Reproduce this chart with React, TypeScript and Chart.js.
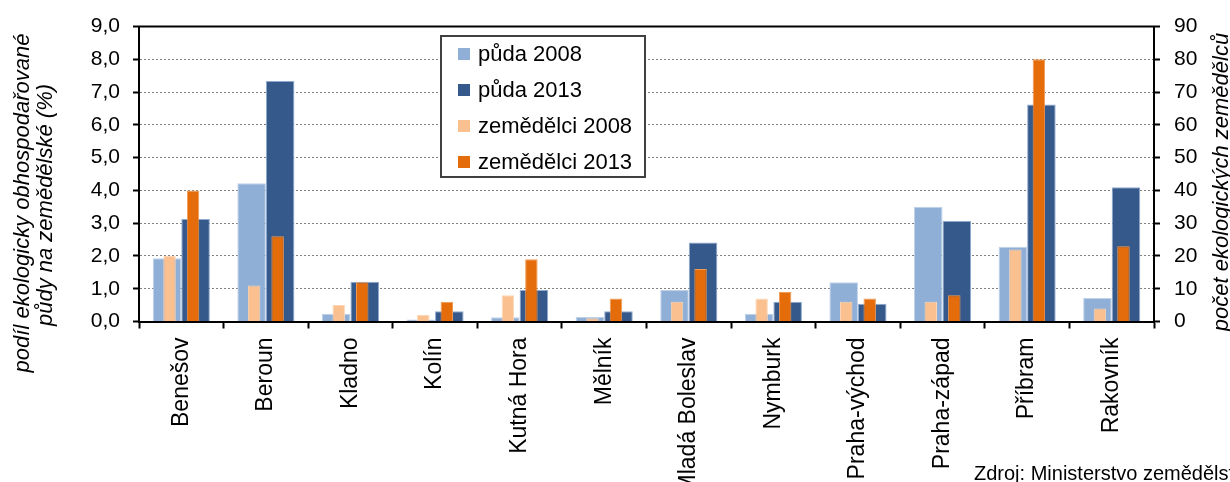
import React, { useEffect, useRef } from 'react';
import { Chart, registerables } from 'chart.js';

Chart.register(...registerables);

const categories = [
  'Benešov', 'Beroun', 'Kladno', 'Kolín', 'Kutná Hora', 'Mělník',
  'Mladá Boleslav', 'Nymburk', 'Praha-východ', 'Praha-západ', 'Příbram', 'Rakovník',
];
const puda2008 = [1.93, 4.22, 0.24, 0.06, 0.13, 0.14, 0.96, 0.24, 1.2, 3.5, 2.28, 0.72];
const puda2013 = [3.13, 7.34, 1.21, 0.31, 0.96, 0.31, 2.41, 0.6, 0.54, 3.07, 6.62, 4.1];
const zemedelci2008 = [20, 11, 5, 2, 8, 1, 6, 7, 6, 6, 22, 4];
const zemedelci2013 = [40, 26, 12, 6, 19, 7, 16, 9, 7, 8, 80, 23];

const seriesLabels = ['půda 2008', 'půda 2013', 'zemědělci 2008', 'zemědělci 2013'];
const seriesColors = ['#8FAFD6', '#34598A', '#FAC090', '#E46C0A'];
const seriesBorders = ['#BFD2EA', '#8EAAD0', '#FCD6B6', '#F09A55'];

const leftTitle = ['podíl ekologicky obhospodařované', 'půdy na zemědělské (%)'];
const rightTitle = 'počet ekologických zemědělců';
const sourceText = 'Zdroj: Ministerstvo zemědělství';

const FONT = '"Liberation Sans", Arial, sans-serif';

export default function App() {
  const ref = useRef<HTMLCanvasElement>(null);

  useEffect(() => {
    if (!ref.current) return;

    const overlay = {
      id: 'overlay',
      afterDraw(chart: any) {
        const { ctx, chartArea } = chart;
        ctx.save();
        // top border
        ctx.strokeStyle = '#000';
        ctx.lineWidth = 2;
        ctx.beginPath();
        ctx.moveTo(chartArea.left - 1, chartArea.top);
        ctx.lineTo(chartArea.right + 1, chartArea.top);
        ctx.stroke();

        // axis titles
        ctx.fillStyle = '#000';
        ctx.font = `italic 22px ${FONT}`;
        ctx.textAlign = 'center';
        ctx.textBaseline = 'middle';
        const rotText = (t: string, x: number, y: number) => {
          ctx.save();
          ctx.translate(x, y);
          ctx.rotate(-Math.PI / 2);
          ctx.fillText(t, 0, 0);
          ctx.restore();
        };
        rotText(leftTitle[0], 23, 203);
        rotText(leftTitle[1], 46, 205);
        rotText(rightTitle, 1222, 182);

        // legend
        const lx = 441, ly = 36, lw = 204, lh = 141;
        ctx.fillStyle = '#fff';
        ctx.fillRect(lx, ly, lw, lh);
        ctx.strokeStyle = '#404040';
        ctx.lineWidth = 2;
        ctx.strokeRect(lx, ly, lw, lh);
        ctx.font = `22px ${FONT}`;
        ctx.textAlign = 'left';
        ctx.textBaseline = 'middle';
        seriesLabels.forEach((lab, i) => {
          const cy = 54 + i * 36;
          ctx.fillStyle = seriesColors[i];
          ctx.fillRect(458, cy - 6, 12, 12);
          ctx.fillStyle = '#000';
          ctx.fillText(lab, 478, cy + 1);
        });

        // source
        ctx.font = `20px ${FONT}`;
        ctx.textBaseline = 'alphabetic';
        ctx.fillStyle = '#000';
        ctx.fillText(sourceText, 974, 480);
        ctx.restore();
      },
    };

    const gridColor = (c: any) =>
      c.tick && (c.tick.value === 0 || c.tick.value === 9) ? 'rgba(0,0,0,0)' : '#808080';

    const pudaOpts = { xAxisID: 'x', yAxisID: 'y', categoryPercentage: 0.675, barPercentage: 1, order: 2 };
    const zemOpts = { xAxisID: 'x', yAxisID: 'y1', categoryPercentage: 0.556, barPercentage: 0.53, order: 1 };

    const chart = new Chart(ref.current, {
      type: 'bar',
      data: {
        labels: categories,
        datasets: [
          {
            label: seriesLabels[0], data: puda2008, backgroundColor: seriesColors[0],
            borderColor: seriesBorders[0], borderWidth: 1, stack: 'a', ...pudaOpts,
          },
          {
            label: seriesLabels[1], data: puda2013, backgroundColor: seriesColors[1],
            borderColor: seriesBorders[1], borderWidth: 1, stack: 'b', ...pudaOpts,
          },
          {
            label: seriesLabels[2], data: zemedelci2008, backgroundColor: seriesColors[2],
            borderColor: seriesBorders[2], borderWidth: 1, stack: 'a', ...zemOpts,
          },
          {
            label: seriesLabels[3], data: zemedelci2013, backgroundColor: seriesColors[3],
            borderColor: seriesBorders[3], borderWidth: 1, stack: 'b', ...zemOpts,
          },
        ],
      },
      options: {
        responsive: false,
        animation: false,
        devicePixelRatio: 1,
        layout: { padding: { top: 24, left: 0, right: 0, bottom: 0 } },
        plugins: { legend: { display: false }, tooltip: { enabled: false } },
        scales: {
          x: {
            type: 'category',
            position: 'bottom',
            offset: true,
            afterFit: (s: any) => { s.height = 160.5; },
            grid: {
              offset: true, drawOnChartArea: false, drawTicks: true,
              tickLength: 7, tickColor: '#000', tickWidth: 2,
            },
            border: { display: true, color: '#000', width: 2 },
            ticks: {
              autoSkip: false, maxRotation: 90, minRotation: 90, padding: 9,
              color: '#000', font: { family: FONT, size: 23 },
            },
          },
          y: {
            type: 'linear',
            position: 'left',
            stacked: false,
            min: 0, max: 9,
            afterFit: (s: any) => { s.width = 139; },
            grid: {
              color: gridColor, lineWidth: 1, drawTicks: true,
              tickLength: 6, tickColor: '#000', tickWidth: 2,
            },
            border: { display: true, color: '#000', width: 2, dash: [2, 2] },
            ticks: {
              stepSize: 1, padding: 13, color: '#000',
              font: { family: FONT, size: 21 },
              callback: (v: any) => Number(v).toFixed(1).replace('.', ','),
            },
          },
          y1: {
            type: 'linear',
            position: 'right',
            stacked: false,
            min: 0, max: 90,
            afterFit: (s: any) => { s.width = 76; },
            grid: {
              drawOnChartArea: false, drawTicks: true,
              tickLength: 6, tickColor: '#000', tickWidth: 2,
            },
            border: { display: true, color: '#000', width: 2 },
            ticks: {
              stepSize: 10, padding: 14, color: '#000',
              font: { family: FONT, size: 21 },
            },
          },
        },
      },
      plugins: [overlay],
    } as any);

    return () => chart.destroy();
  }, []);

  return (
    <div style={{ position: 'absolute', left: 0, top: 0, width: 1230, height: 482, background: '#fff' }}>
      <canvas ref={ref} width={1230} height={482} style={{ display: 'block' }} />
    </div>
  );
}
